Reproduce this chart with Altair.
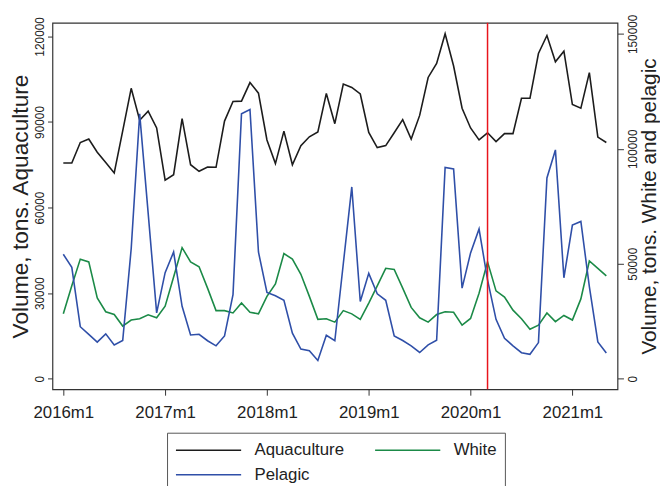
import altair as alt
import pandas as pd

# Monthly index: 0 = 2016m1 ... 64 = 2021m5
months = list(range(65))
tick_values = [0, 12, 24, 36, 48, 60]
tick_labels = ["2016m1", "2017m1", "2018m1", "2019m1", "2020m1", "2021m1"]

aquaculture = [
    75600, 75600, 82800, 84000, 79400, 75800, 72100, 86900, 101800, 90600, 93800, 87900,
    69600, 71500, 91200, 75000, 72700, 74200, 74100, 90300, 97200, 97300, 103800, 100100,
    83700, 75400, 86800, 75000, 81700, 84800, 86500, 100000, 89400, 103300, 102100, 99800,
    86300, 81000, 81700, 86200, 90800, 84000, 92300, 105600, 110500, 120900, 109600, 94800,
    87900, 83700, 86200, 83100, 85900, 85900, 98300, 98300, 114000, 120300, 111100, 114800,
    96100, 94800, 107300, 84700, 82800,
]
white = [
    28200, 40400, 52000, 50800, 35100, 29100, 27900, 22900, 25500, 26100, 27800, 26500,
    31500, 44200, 57000, 50800, 48700, 39400, 29600, 29600, 28600, 32900, 28900, 28200,
    35800, 41200, 54400, 52000, 45400, 35800, 25800, 26100, 24600, 29600, 28200, 25800,
    32900, 40400, 48000, 47500, 39400, 31000, 26500, 24600, 27900, 29100, 28900, 23300,
    26200, 37200, 50800, 38200, 35500, 29800, 26100, 21500, 23300, 28600, 24800, 27500,
    25500, 34700, 51200, 48000, 44700,
]
pelagic = [
    54100, 48400, 22600, 19300, 15900, 19500, 14700, 16600, 56500, 115200, 72000, 28600,
    46100, 55100, 31500, 19000, 19300, 16500, 14300, 18600, 36500, 115200, 117100, 55100,
    37500, 36100, 34100, 19800, 12900, 12200, 7900, 18900, 16500, 50000, 83400, 33600,
    45800, 36900, 34100, 18600, 16600, 14300, 11400, 14700, 16700, 91900, 91200, 39400,
    54700, 65100, 43000, 25800, 17600, 14300, 11300, 10600, 15700, 87300, 99500, 43900,
    66800, 68400, 40000, 16000, 11200,
]
series_names = ["Aquaculture", "White", "Pelagic"]
series_colors = ["#1c1c1c", "#1b8a47", "#2f4fa8"]
legend_order = ["Aquaculture", "Pelagic", "White"]  # column-major fill -> rows: Aquaculture/White, Pelagic
marker_month = [50]  # 2020m3

df = pd.DataFrame({"month": months, "Aquaculture": aquaculture, "White": white, "Pelagic": pelagic})
long = df.melt("month", var_name="series", value_name="volume")
rule_df = pd.DataFrame({"month": marker_month})

FONT = "Liberation Sans"
label_expr = f"{tick_labels}[indexof({tick_values}, datum.value)]"

x_enc = alt.X(
    "month:Q",
    scale=alt.Scale(domain=[-1.28, 65.32], nice=False, zero=False),
    axis=alt.Axis(values=tick_values, labelExpr=label_expr, title=None, domain=False, grid=False,
                  tickSize=6, tickColor="#333", labelFontSize=17, labelPadding=10,
                  labelColor="#222", labelFont=FONT),
)

color_enc = alt.Color(
    "series:N",
    scale=alt.Scale(domain=series_names, range=series_colors),
    legend=alt.Legend(
        title=None, orient="none", legendX=116, legendY=415, columns=2,
        values=legend_order,
        symbolType="M-3.882,0H3.882", symbolSize=289, symbolStrokeWidth=1.5,
        symbolOffset=24.5, labelOffset=37, labelFontSize=17, labelFont=FONT,
        labelColor="#222", rowPadding=7, columnPadding=27.6, padding=8,
        strokeColor="#555", fillColor="white",
    ),
)

aqua = alt.Chart(long).transform_filter("datum.series == 'Aquaculture'").mark_line(strokeWidth=1.6).encode(
    x=x_enc,
    y=alt.Y("volume:Q",
            scale=alt.Scale(domain=[-3703, 124776], nice=False, zero=False),
            axis=alt.Axis(orient="left", values=[0, 30000, 60000, 90000, 120000], format="d",
                          labelAngle=270, labelAlign="center", labelBaseline="bottom",
                          labelFontSize=12, labelPadding=1, tickSize=5, tickColor="#333",
                          labelColor="#222", labelFont=FONT, domain=False, grid=False,
                          title="Volume, tons. Aquaculture", titleFontSize=23, titleFont=FONT,
                          titleFontWeight="normal", titleColor="#222", titlePadding=1)),
    color=color_enc,
)

wp = alt.Chart(long).transform_filter("datum.series != 'Aquaculture'").mark_line(strokeWidth=1.6).encode(
    x=x_enc,
    y=alt.Y("volume:Q",
            scale=alt.Scale(domain=[-4595, 154810], nice=False, zero=False),
            axis=alt.Axis(orient="right", values=[0, 50000, 100000, 150000], format="d",
                          labelAngle=270, labelAlign="center", labelBaseline="top",
                          labelFontSize=12, labelPadding=4, tickSize=6, tickColor="#333",
                          labelColor="#222", labelFont=FONT, domain=False, grid=False,
                          title="Volume, tons. White and pelagic", titleAngle=270,
                          titleBaseline="top", titleAlign="center",
                          titleFontSize=21, titleFont=FONT, titleFontWeight="normal",
                          titleColor="#222", titlePadding=0)),
    color=color_enc,
)

rule = alt.Chart(rule_df).mark_rule(color="#e8141c", strokeWidth=1.5).encode(x=alt.X("month:Q"))

chart = alt.layer(aqua, wp, rule).resolve_scale(y="independent").properties(
    width=572, height=371,
    autosize=alt.AutoSizeParams(type="none"),
    padding={"left": 45, "top": 12, "right": 43, "bottom": 95},
    background="white",
).configure_view(stroke="#333", strokeWidth=1.2)

chart.save("out.html", embed_options={"renderer": "svg", "actions": False})
